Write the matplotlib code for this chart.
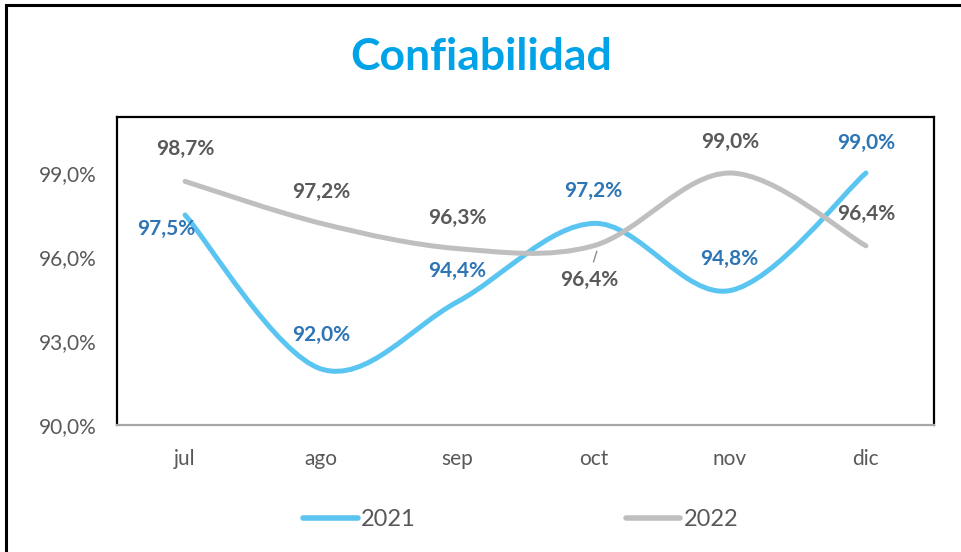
import matplotlib
matplotlib.use('Agg')
import matplotlib.pyplot as plt
import numpy as np
from matplotlib.path import Path
from matplotlib.patches import PathPatch, Rectangle
from matplotlib.lines import Line2D
from matplotlib.ticker import FuncFormatter

plt.rcParams['font.family'] = ['Lato', 'DejaVu Sans']

months = ['jul', 'ago', 'sep', 'oct', 'nov', 'dic']
vals_2021 = [97.5, 92.0, 94.4, 97.2, 94.8, 99.0]
vals_2022 = [98.7, 97.2, 96.3, 96.4, 99.0, 96.4]

# label offsets in pixels (dx, dy) relative to each point
off_2021 = [(-19, -14), (0, 34), (0, 31), (0, 32), (0, 32), (0, 30)]
off_2022 = [(0, 32), (0, 31), (0, 31), (-4, -34), (0, 31), (0, 32)]

C_2021 = '#5BC5F2'
C_2022 = '#BFBFBF'
T_2021 = '#2E75B6'
T_2022 = '#595959'


def smooth_path(x, y):
    """ Excel style smoothed line as cubic bezier segments """
    pts = np.column_stack([x, y])
    n = len(pts)
    verts = [pts[0]]
    codes = [Path.MOVETO]
    for i in range(n - 1):
        p_prev = pts[max(i - 1, 0)]
        p0 = pts[i]
        p1 = pts[i + 1]
        p_next = pts[min(i + 2, n - 1)]
        c1 = p0 + (p1 - p_prev) / 6.0
        c2 = p1 - (p_next - p0) / 6.0
        verts += [c1, c2, p1]
        codes += [Path.CURVE4] * 3
    return Path(verts, codes)


fig = plt.figure(figsize=(9.62, 5.52), dpi=100)
ax = fig.add_axes([117/962, 1-425/552, (934-117)/962, (425-117)/552])

xpos = np.arange(len(months)) + 0.5
for vals, col in [(vals_2021, C_2021), (vals_2022, C_2022)]:
    patch = PathPatch(smooth_path(xpos, vals), facecolor='none', edgecolor=col,
                      lw=3.6, capstyle='round', joinstyle='round')
    ax.add_patch(patch)

ax.set_xlim(0, 6)
ax.set_ylim(90, 101)
ax.set_yticks([90, 93, 96, 99])
ax.yaxis.set_major_formatter(FuncFormatter(lambda v, p: ('%.1f%%' % v).replace('.', ',')))
ax.set_xticks(xpos)
ax.set_xticklabels(months)
ax.tick_params(axis='both', length=0, labelsize=15, labelcolor='#595959')
ax.tick_params(axis='y', pad=15)
ax.tick_params(axis='x', pad=17)
for s in ['top', 'right', 'left']:
    ax.spines[s].set_color('black')
    ax.spines[s].set_linewidth(1.6)
ax.spines['bottom'].set_color('#A6A6A6')
ax.spines['bottom'].set_linewidth(1.6)

for vals, offs, tc in [(vals_2021, off_2021, T_2021), (vals_2022, off_2022, T_2022)]:
    for xp, v, (dx, dy) in zip(xpos, vals, offs):
        ax.annotate(('%.1f%%' % v).replace('.', ','), (xp, v), xytext=(dx/1.389, dy/1.389),
                    textcoords='offset points', ha='center', va='center',
                    fontsize=15, fontweight='bold', color=tc)

# leader line for the oct 2022 label
ax.annotate('', (xpos[3] + 0.03, 96.3), xytext=(-5/1.389, -16/1.389), textcoords='offset points',
            arrowprops=dict(arrowstyle='-', color='#8C8C8C', lw=1))

fig.text(0.5, 1-57/552, 'Confiabilidad', ha='center', va='center',
         fontsize=32, fontweight='bold', color='#00A3E8')

handles = [Line2D([], [], color=C_2021, lw=4, solid_capstyle='round'),
           Line2D([], [], color=C_2022, lw=4, solid_capstyle='round')]
fig.legend(handles, ['2021', '2022'], loc='center', bbox_to_anchor=(521/962, 1-520/552),
           ncol=2, frameon=False, fontsize=17, labelcolor='#595959',
           handlelength=2.3, handletextpad=0.15, columnspacing=8.9)

# outer chart frame (runs off the right and bottom edges)
fig.patches.append(Rectangle((6/962, -0.2), 1.2, 1.2 - 5/552, transform=fig.transFigure,
                             fill=False, edgecolor='black', lw=2.2))

fig.savefig('out.png', dpi=100)
